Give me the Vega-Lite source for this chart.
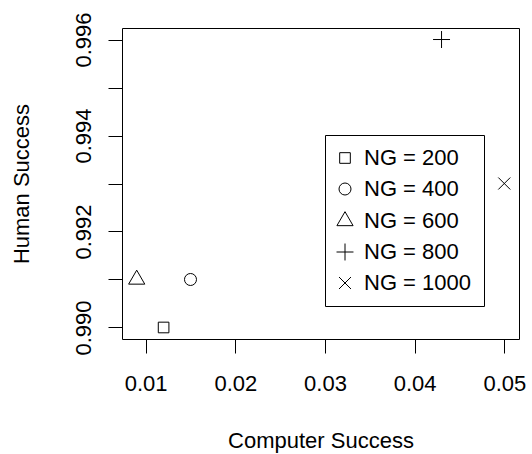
{
  "$schema": "https://vega.github.io/schema/vega-lite/v6.json",
  "width": 397,
  "height": 311,
  "autosize": "none",
  "padding": {"left": 122, "top": 28, "right": 13, "bottom": 115},
  "background": "white",
  "config": {
    "view": {"stroke": "black", "strokeWidth": 1},
    "font": "Liberation Sans",
    "axis": {
      "grid": false,
      "domain": false,
      "tickColor": "black",
      "tickWidth": 1,
      "tickSize": 14,
      "labelColor": "black",
      "labelFontSize": 22,
      "titleFontSize": 22,
      "titleFontWeight": "normal",
      "titleColor": "black",
      "labelFlush": false,
      "labelOverlap": false
    }
  },
  "data": {
    "values": [
      {"computer": 0.012, "human": 0.990, "group": "NG = 200"},
      {"computer": 0.015, "human": 0.991, "group": "NG = 400"},
      {"computer": 0.009, "human": 0.991, "group": "NG = 600"},
      {"computer": 0.043, "human": 0.996, "group": "NG = 800"},
      {"computer": 0.050, "human": 0.993, "group": "NG = 1000"}
    ]
  },
  "mark": {"type": "point", "filled": false, "stroke": "black", "color": "black", "strokeWidth": 1, "size": 144, "opacity": 1},
  "encoding": {
    "x": {
      "field": "computer",
      "type": "quantitative",
      "scale": {"domain": [0.00736, 0.05164], "nice": false, "zero": false},
      "axis": {
        "values": [0.01, 0.02, 0.03, 0.04, 0.05],
        "format": ".2f",
        "title": "Computer Success",
        "labelPadding": 37,
        "labelBaseline": "alphabetic",
        "labelAlign": "center",
        "titleY": 108,
        "titleBaseline": "alphabetic"
      }
    },
    "y": {
      "field": "human",
      "type": "quantitative",
      "scale": {"domain": [0.98976, 0.99624], "nice": false, "zero": false},
      "axis": {
        "values": [0.990, 0.991, 0.992, 0.993, 0.994, 0.995, 0.996],
        "format": ".3f",
        "labelExpr": "round(datum.value * 1000) % 2 == 0 ? datum.label : ''",
        "title": "Human Success",
        "labelAngle": -90,
        "labelAlign": "center",
        "labelBaseline": "alphabetic",
        "labelPadding": 18,
        "titleAngle": -90,
        "titleX": -94,
        "titleY": 155.5,
        "titleAlign": "center",
        "titleBaseline": "alphabetic"
      }
    },
    "shape": {
      "field": "group",
      "type": "nominal",
      "scale": {
        "domain": ["NG = 200", "NG = 400", "NG = 600", "NG = 800", "NG = 1000"],
        "range": [
          "M-0.886,-0.886H0.886V0.886H-0.886Z",
          "circle",
          "M0,-1.555L1.347,0.778L-1.347,0.778Z",
          "M-1.414,0H1.414M0,-1.414V1.414",
          "M-1,-1L1,1M-1,1L1,-1"
        ]
      },
      "legend": {
        "orient": "none",
        "legendX": 203,
        "legendY": 107,
        "title": null,
        "strokeColor": "black",
        "fillColor": "white",
        "padding": 12,
        "rowPadding": 9,
        "symbolSize": 144,
        "symbolStrokeColor": "black",
        "symbolStrokeWidth": 1,
        "symbolFillColor": "transparent",
        "symbolOffset": -3,
        "labelFontSize": 22,
        "labelColor": "black",
        "labelOffset": 8,
        "labelLimit": 300
      }
    }
  }
}
